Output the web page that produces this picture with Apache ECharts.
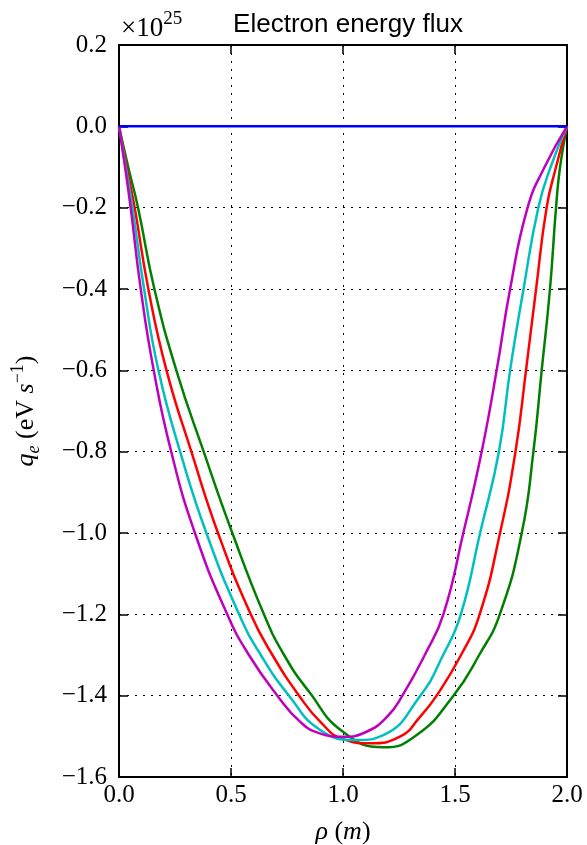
<!DOCTYPE html>
<html>
<head>
<meta charset="utf-8">
<script src="https://cdn.jsdelivr.net/npm/echarts@6/dist/echarts.min.js"></script>
<style>html,body{margin:0;padding:0;background:#fff}#c{width:587px;height:845px}</style>
</head>
<body>
<div id="c"></div>
<script>
// Data (y in units of 1e25)
const xTicks = [0.0, 0.5, 1.0, 1.5, 2.0];
const yTicks = [0.2, 0.0, -0.2, -0.4, -0.6, -0.8, -1.0, -1.2, -1.4, -1.6];

const blueX = [0, 2.0];
const blueY = [0, 0];

const greenX = [0, 0.041, 0.085, 0.158, 0.256, 0.378, 0.506, 0.647, 0.737, 0.848, 1.0, 1.18, 1.329, 1.493, 1.608, 1.70, 1.798, 1.85, 1.887, 1.924, 1.951, 1.969, 2.0];
const greenY = [0, -0.1, -0.2, -0.4, -0.6, -0.8, -1.0, -1.2, -1.3, -1.39, -1.489, -1.527, -1.497, -1.4, -1.3, -1.2, -1.0, -0.8, -0.6, -0.4, -0.2, -0.1, 0];

const redX = [0, 0.034, 0.070, 0.131, 0.212, 0.323, 0.442, 0.588, 0.685, 0.804, 0.9, 1.0, 1.12, 1.254, 1.344, 1.418, 1.527, 1.61, 1.701, 1.77, 1.817, 1.862, 1.909, 1.951, 2.0];
const redY = [0, -0.1, -0.2, -0.4, -0.6, -0.8, -1.0, -1.2, -1.3, -1.4, -1.465, -1.507, -1.517, -1.501, -1.452, -1.4, -1.3, -1.2, -1.0, -0.8, -0.6, -0.4, -0.2, -0.1, 0];

const cyanX = [0, 0.030, 0.060, 0.112, 0.176, 0.273, 0.39, 0.536, 0.633, 0.759, 0.9, 1.06, 1.18, 1.345, 1.447, 1.526, 1.612, 1.696, 1.746, 1.806, 1.872, 1.927, 2.0];
const cyanY = [0, -0.1, -0.2, -0.4, -0.6, -0.8, -1.0, -1.2, -1.3, -1.4, -1.485, -1.509, -1.497, -1.4, -1.3, -1.2, -1.0, -0.8, -0.6, -0.4, -0.2, -0.1, 0];

const magentaX = [0, 0.027, 0.052, 0.097, 0.155, 0.233, 0.339, 0.483, 0.58, 0.707, 0.808, 0.893, 1.0, 1.1, 1.2, 1.265, 1.365, 1.448, 1.537, 1.619, 1.686, 1.746, 1.824, 1.90, 2.0];
const magentaY = [0, -0.1, -0.2, -0.4, -0.6, -0.8, -1.0, -1.2, -1.3, -1.4, -1.464, -1.492, -1.501, -1.490, -1.450, -1.4, -1.3, -1.2, -1.0, -0.8, -0.6, -0.4, -0.2, -0.1, 0];

const zip = (xs, ys) => xs.map((x, i) => [x, ys[i]]);
const fmt = v => {
  const s = Math.abs(v) < 1e-9 ? '0.0' : v.toFixed(1);
  return s.replace('-', '\u2212');
};

const serif = 'Liberation Serif';
const chart = echarts.init(document.getElementById('c'));

const lineSeries = (name, xs, ys, color, z) => ({
  name, type: 'line', data: zip(xs, ys), smooth: 0.5, showSymbol: false,
  lineStyle: { color, width: 2.5 }, z, xAxisIndex: 0, yAxisIndex: 0
});

const tickStyle = { show: true, inside: true, length: 9, lineStyle: { color: '#000', width: 1.5 } };
const spine = { show: true, onZero: false, lineStyle: { color: '#000', width: 2 } };
const dotted = { show: true, lineStyle: { color: '#000', width: 1, type: [2, 6] } };

chart.setOption({
  animation: false,
  backgroundColor: '#fff',
  title: {
    text: 'Electron energy flux',
    left: 343, top: 7, textAlign: 'center',
    textStyle: { fontFamily: 'Liberation Sans', fontSize: 26, fontWeight: 'normal', color: '#000' }
  },
  graphic: [{
    type: 'text', left: 121, top: 10,
    style: {
      rich: {
        n: { fontFamily: serif, fontSize: 27, lineHeight: 32, verticalAlign: 'bottom', fill: '#000' },
        sup: { fontFamily: serif, fontSize: 19, lineHeight: 32, verticalAlign: 'top', fill: '#000' }
      },
      text: '{n|\u00d710}{sup|25}'
    }
  }],
  grid: { left: 119, right: 20, top: 45, bottom: 68, containLabel: false, outerBoundsMode: 'none' },
  xAxis: [{
    type: 'value', min: 0, max: 2.0, interval: 0.5, position: 'bottom',
    name: '{i|\u03c1}{n| (}{i|m}{n|)}',
    nameLocation: 'middle', nameGap: 42,
    nameTextStyle: {
      rich: {
        i: { fontFamily: serif, fontStyle: 'italic', fontSize: 26, color: '#000' },
        n: { fontFamily: serif, fontSize: 26, color: '#000' }
      }
    },
    axisLine: spine, axisTick: tickStyle,
    axisLabel: { formatter: fmt, fontFamily: serif, fontSize: 25, color: '#000', margin: 6 },
    splitLine: dotted
  }, {
    type: 'value', min: 0, max: 2.0, interval: 0.5, position: 'top',
    axisLine: spine, axisTick: tickStyle,
    axisLabel: { show: false }, splitLine: { show: false }
  }],
  yAxis: [{
    type: 'value', min: -1.6, max: 0.2, interval: 0.2, position: 'left',
    name: '{i|q}{sub|e}{n| (eV }{i|s}{sup|\u22121}{n|)}',
    nameLocation: 'middle', nameGap: 76, nameRotate: 90,
    nameTextStyle: {
      rich: {
        i: { fontFamily: serif, fontStyle: 'italic', fontSize: 26, lineHeight: 34, verticalAlign: 'middle', color: '#000' },
        n: { fontFamily: serif, fontSize: 26, lineHeight: 34, verticalAlign: 'middle', color: '#000' },
        sub: { fontFamily: serif, fontStyle: 'italic', fontSize: 18, lineHeight: 34, verticalAlign: 'bottom', color: '#000' },
        sup: { fontFamily: serif, fontSize: 18, lineHeight: 34, verticalAlign: 'top', color: '#000' }
      }
    },
    axisLine: spine, axisTick: tickStyle,
    axisLabel: { formatter: fmt, fontFamily: serif, fontSize: 25, color: '#000', margin: 12 },
    splitLine: dotted
  }, {
    type: 'value', min: -1.6, max: 0.2, interval: 0.2, position: 'right',
    axisLine: spine, axisTick: tickStyle,
    axisLabel: { show: false }, splitLine: { show: false }
  }],
  series: [
    lineSeries('g', greenX, greenY, '#008000', 2),
    lineSeries('r', redX, redY, '#ff0000', 3),
    lineSeries('c', cyanX, cyanY, '#00bfbf', 4),
    lineSeries('m', magentaX, magentaY, '#bf00bf', 5),
    lineSeries('b', blueX, blueY, '#0000ff', 6)
  ]
});
</script>
</body>
</html>
